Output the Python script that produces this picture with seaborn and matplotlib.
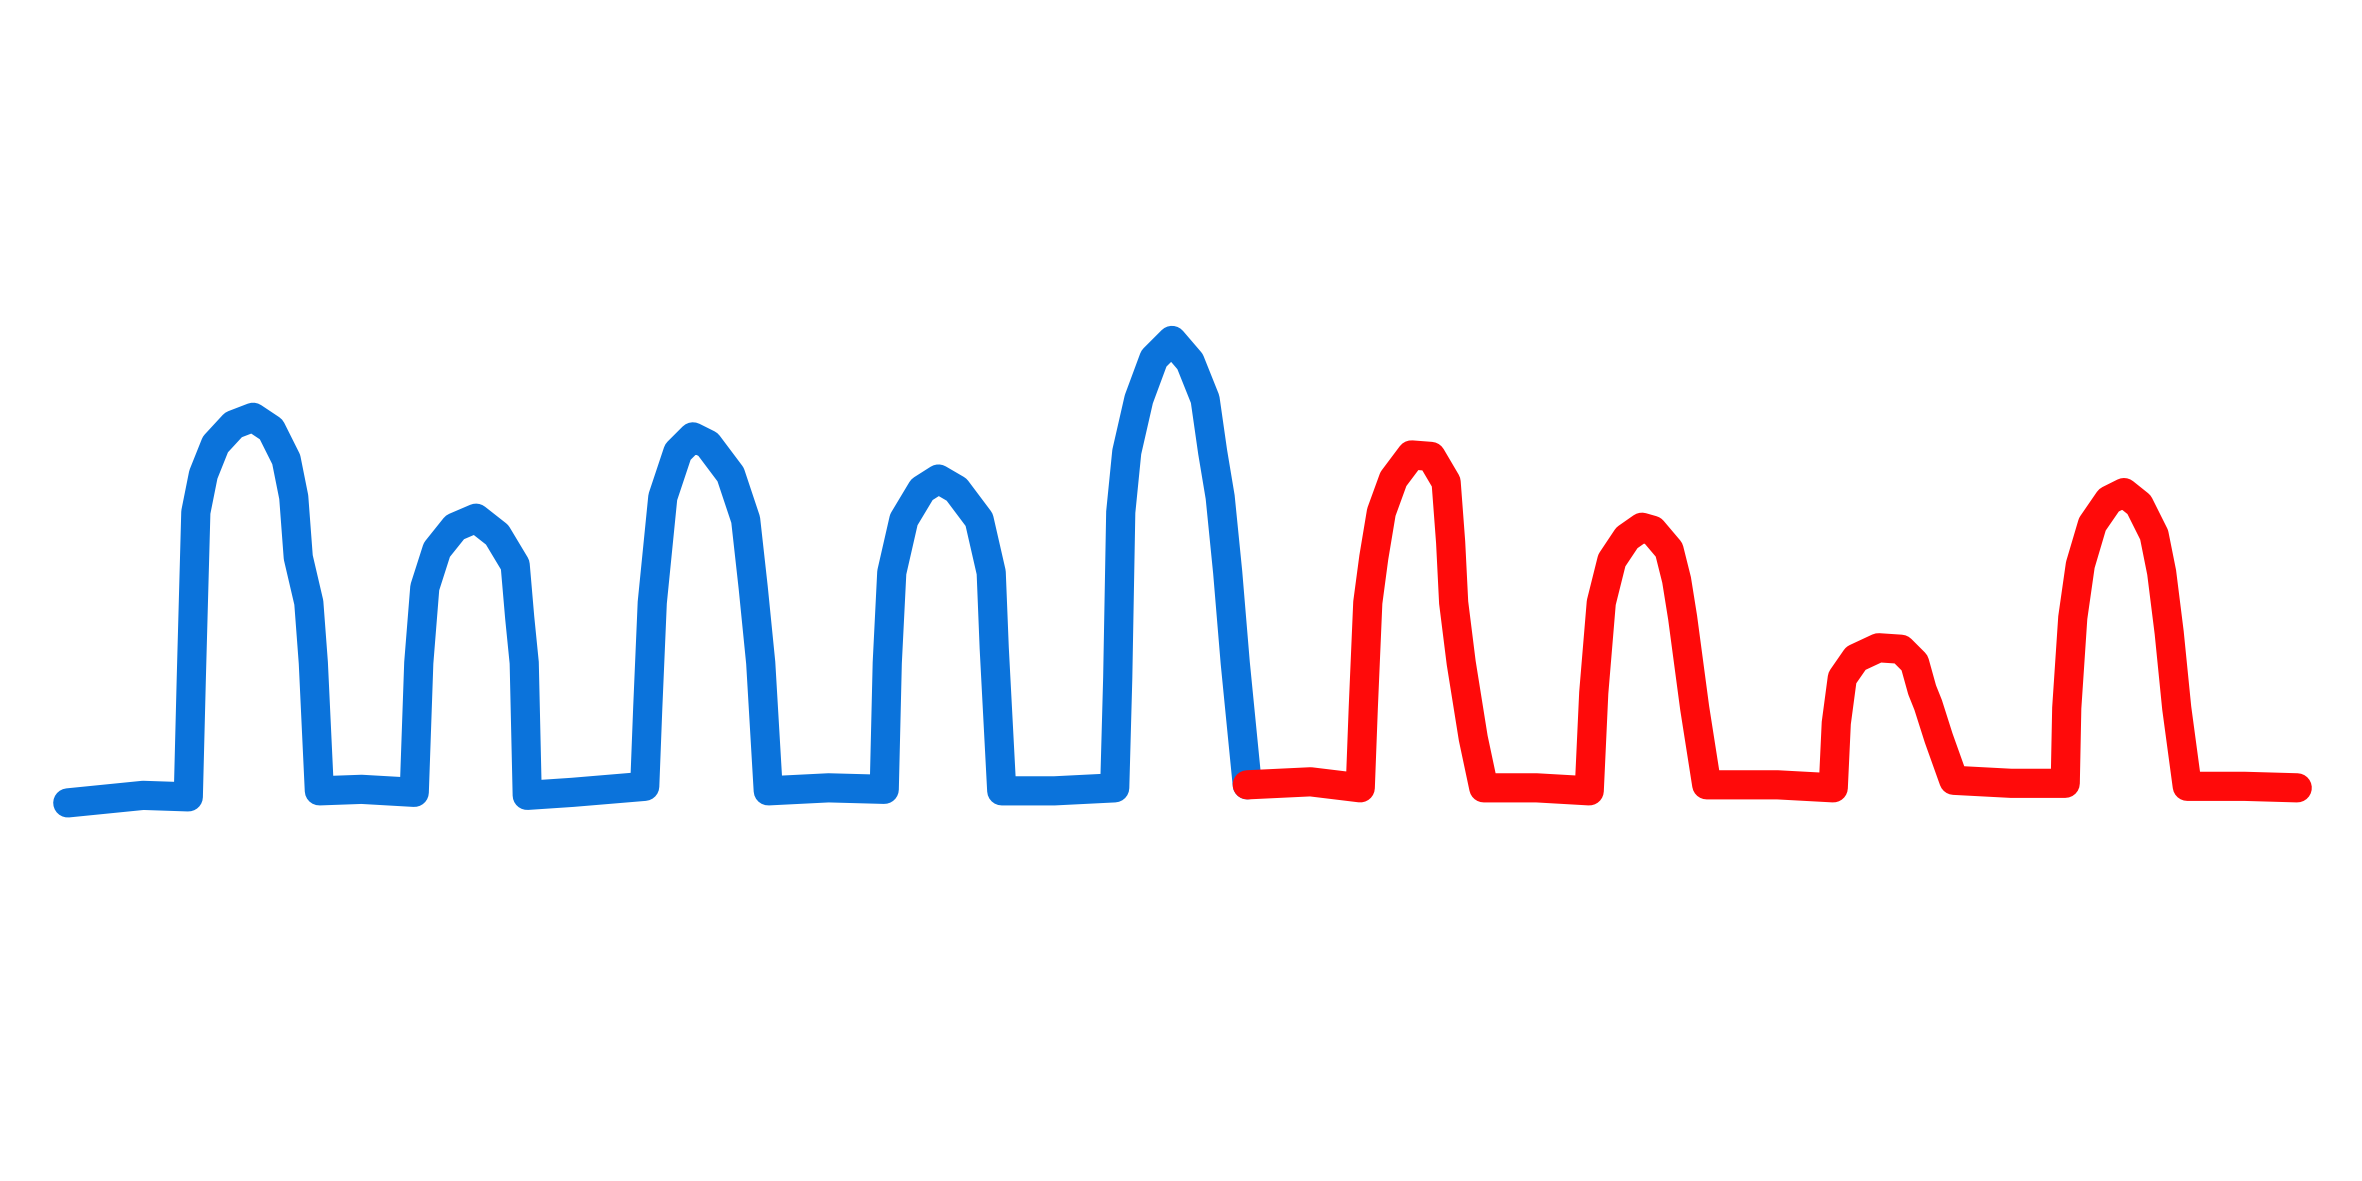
import matplotlib
matplotlib.use("Agg")
import matplotlib.pyplot as plt
import seaborn as sns
import pandas as pd

# Values (x position, height in image units; canvas 1568 x 784)
blue_x = [45, 95, 125, 127, 130, 135, 143, 155, 168, 180, 190, 195, 198, 205, 208, 212,
          240, 275, 278, 282, 290, 302, 316, 330, 342, 345, 348, 350,
          380, 428, 430, 433, 440, 450, 460, 470, 485, 495, 500, 505, 510,
          550, 587, 589, 592, 600, 612, 623, 635, 650, 658, 660, 665,
          700, 740, 742, 744, 748, 756, 766, 778, 790, 800, 805, 810, 815, 820, 828]
blue_y = [533, 528, 529, 450, 340, 315, 295, 282, 277, 285, 305, 330, 370, 400, 440, 525,
          524, 526, 440, 390, 365, 350, 344, 355, 375, 410, 440, 528,
          526, 522, 470, 400, 330, 300, 290, 295, 315, 345, 390, 440, 525,
          523, 524, 440, 380, 345, 325, 318, 325, 345, 380, 430, 525,
          525, 523, 450, 340, 300, 265, 238, 226, 240, 265, 300, 330, 380, 440, 521]

red_x = [828, 870, 903, 905, 908, 912, 917, 925, 937, 950, 960, 963, 965, 970, 978, 985,
         1020, 1055, 1058, 1063, 1070, 1080, 1090, 1097, 1108, 1113, 1117, 1125, 1133,
         1180, 1217, 1219, 1223, 1232, 1247, 1262, 1271, 1276, 1280, 1287, 1297,
         1335, 1371, 1372, 1376, 1381, 1389, 1400, 1410, 1420, 1430, 1435, 1440, 1445, 1452,
         1490, 1525]
red_y = [521, 519, 523, 470, 400, 370, 340, 318, 302, 303, 320, 360, 400, 440, 490, 523,
         523, 525, 460, 400, 372, 357, 350, 352, 365, 385, 410, 470, 521,
         521, 523, 480, 450, 437, 430, 431, 440, 458, 468, 490, 518,
         520, 520, 470, 410, 375, 348, 332, 327, 335, 355, 380, 420, 470, 522,
         522, 523]

W, H = 1568, 784
df_blue = pd.DataFrame({"x": blue_x, "y": [H - v for v in blue_y]})
df_red = pd.DataFrame({"x": red_x, "y": [H - v for v in red_y]})

sns.set_theme(style="white")
fig = plt.figure(figsize=(23.62, 11.81), dpi=100)
ax = fig.add_axes([0, 0, 1, 1])
lw = 21
sns.lineplot(data=df_blue, x="x", y="y", sort=False, estimator=None, ax=ax,
             color="#0b73db", lw=lw, solid_capstyle="round", solid_joinstyle="round")
sns.lineplot(data=df_red, x="x", y="y", sort=False, estimator=None, ax=ax,
             color="#ff0a0a", lw=lw, solid_capstyle="round", solid_joinstyle="round")
for line in ax.get_lines():
    line.set_linewidth(lw)
ax.set_xlim(0, W)
ax.set_ylim(0, H)
ax.axis("off")
fig.savefig("out.png", dpi=100, facecolor="white")
